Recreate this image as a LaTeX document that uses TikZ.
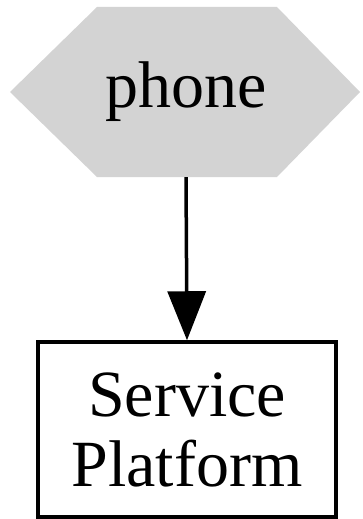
\documentclass[tikz,border=0pt]{standalone}
\usepackage{fontspec}
\setmainfont{Liberation Serif}
\usetikzlibrary{arrows.meta}
\definecolor{hexgray}{HTML}{D3D3D3}
\tikzset{
  lbl/.style={font=\fontsize{66}{70}\selectfont, align=center, inner sep=0pt},
  boxnode/.style={draw, line width=3.5pt, minimum width=298pt, minimum height=175pt, inner sep=0pt},
  conn/.style={line width=3.5pt, -{Triangle[length=49pt,width=38pt]}}
}
\begin{document}
\begin{tikzpicture}[x=1pt,y=1pt]
\useasboundingbox (0,0) rectangle (362,-519);
\fill[hexgray] (97,-7) -- (277,-7) -- (360,-92) -- (277,-177) -- (97,-177) -- (10,-92) -- cycle;
\node[lbl, minimum width=180pt, minimum height=170pt] (phone) at (186,-92) {phone};
\node[boxnode, lbl] (sp) at (187,-429.5) {Service\\Platform};
\draw[conn] (phone.south) -- (sp.north);
\end{tikzpicture}
\end{document}
